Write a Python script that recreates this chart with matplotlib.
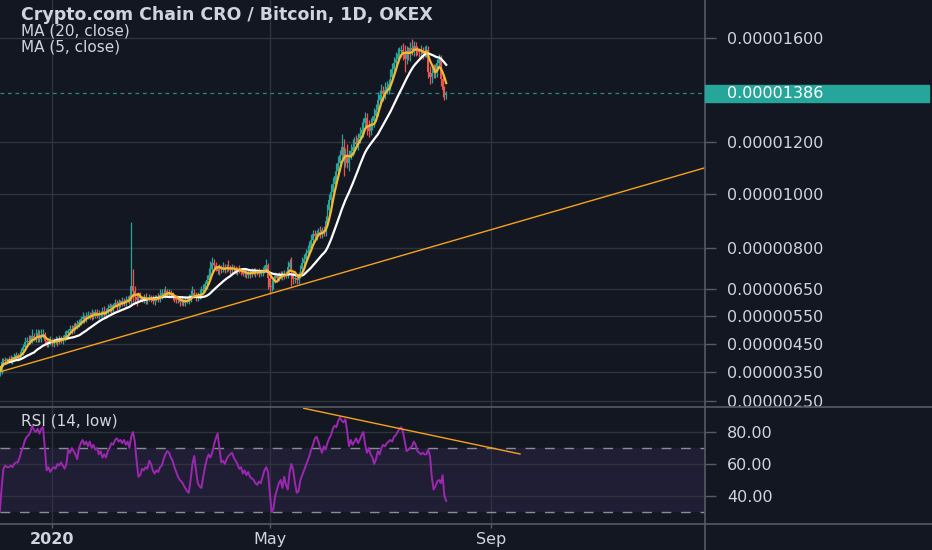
import numpy as np
import pandas as pd
import matplotlib
matplotlib.use("Agg")
import matplotlib.pyplot as plt
import matplotlib.dates as mdates
from matplotlib.lines import Line2D
from matplotlib.patches import Rectangle

# ---------------- data (prices in units of 1e-8 BTC) ----------------
start_date = "2019-12-03"
first_open = 345
close = [
    355, 385, 392, 388, 395, 398, 393, 400, 405, 410,
    402, 412, 425, 440, 455, 462, 458, 465, 478, 470,
    475, 490, 468, 480, 485, 460, 450, 455, 462, 452,
    460, 465, 458, 468, 462, 470, 480, 488, 495, 505,
    500, 515, 512, 520, 530, 538, 545, 535, 550, 555,
    548, 560, 552, 565, 550, 558, 560, 570, 555, 568,
    578, 585, 575, 590, 598, 585, 600, 595, 605, 598,
    610, 612, 605, 660, 640, 620, 610, 625, 615, 610,
    620, 605, 612, 618, 610, 605, 615, 620, 612, 625,
    635, 630, 640, 628, 635, 625, 618, 615, 608, 612,
    600, 605, 598, 610, 605, 615, 625, 635, 628, 615,
    622, 630, 640, 650, 665, 680, 700, 720, 745, 735,
    728, 715, 725, 720, 728, 722, 730, 724, 718, 726,
    720, 715, 722, 716, 710, 705, 712, 700, 708, 702,
    712, 715, 708, 712, 705, 710, 718, 722, 735, 690,
    655, 660, 680, 695, 688, 700, 695, 705, 698, 702,
    730, 745, 700, 685, 690, 680, 700, 720, 745, 760,
    780, 790, 800, 830, 850, 845, 855, 860, 850, 865,
    858, 900, 940, 980, 1010, 1040, 1070, 1090, 1120, 1150,
    1180, 1130, 1150, 1120, 1150, 1165, 1180, 1200, 1190, 1215,
    1230, 1245, 1270, 1290, 1255, 1240, 1265, 1280, 1300, 1320,
    1360, 1380, 1395, 1385, 1400, 1410, 1420, 1450, 1480, 1505,
    1520, 1540, 1550, 1555, 1545, 1520, 1550, 1540, 1560, 1555,
    1570, 1550, 1548, 1545, 1552, 1540, 1545, 1555, 1470, 1450,
    1465, 1480, 1470, 1505, 1520, 1440, 1400, 1380, 1386,
]
wick_hi = [
    10, 15, 8, 12, 6, 10, 14, 8, 12, 10,
    8, 14, 12, 10, 18, 12, 20, 15, 25, 10,
    30, 15, 10, 22, 18, 8, 12, 10, 15, 8,
    10, 12, 8, 14, 10, 12, 15, 10, 8, 12,
    14, 10, 12, 16, 10, 12, 20, 10, 14, 12,
    10, 15, 8, 12, 10, 14, 8, 12, 16, 10,
    14, 12, 10, 8, 15, 10, 12, 8, 14, 10,
    12, 10, 15, 235, 60, 20, 15, 10, 12, 8,
    10, 14, 8, 12, 10, 15, 10, 8, 12, 25,
    15, 12, 20, 10, 14, 8, 12, 10, 8, 12,
    10, 14, 8, 12, 10, 15, 18, 25, 12, 10,
    14, 18, 20, 15, 12, 20, 25, 30, 20, 15,
    12, 10, 15, 12, 20, 14, 10, 25, 12, 15,
    10, 12, 8, 14, 10, 12, 8, 15, 10, 12,
    14, 10, 12, 8, 15, 10, 12, 14, 25, 10,
    15, 20, 12, 14, 10, 12, 15, 10, 12, 14,
    20, 15, 20, 12, 10, 14, 12, 15, 20, 18,
    15, 20, 25, 20, 15, 18, 12, 15, 20, 14,
    18, 20, 25, 20, 30, 25, 20, 30, 25, 20,
    50, 30, 25, 40, 20, 25, 30, 20, 25, 20,
    25, 30, 20, 25, 20, 30, 25, 20, 30, 25,
    30, 20, 25, 20, 30, 25, 20, 30, 25, 20,
    25, 20, 15, 20, 25, 30, 20, 15, 25, 35,
    20, 15, 20, 15, 20, 15, 25, 20, 15, 20,
    25, 20, 20, 15, 20, 15, 20, 15, 10,
]
wick_lo = [
    8, 10, 12, 10, 8, 12, 10, 14, 8, 10,
    12, 8, 10, 14, 10, 12, 8, 10, 12, 10,
    14, 18, 12, 10, 8, 14, 10, 12, 10, 8,
    12, 10, 14, 8, 10, 12, 10, 8, 12, 10,
    14, 10, 12, 8, 10, 12, 14, 10, 8, 12,
    10, 14, 12, 10, 8, 12, 10, 14, 10, 12,
    10, 12, 14, 10, 8, 12, 10, 14, 10, 12,
    10, 8, 12, 10, 40, 20, 25, 10, 12, 10,
    14, 10, 12, 8, 10, 12, 14, 10, 12, 10,
    12, 10, 14, 10, 12, 8, 10, 14, 12, 10,
    14, 10, 12, 10, 8, 12, 14, 10, 12, 10,
    12, 10, 14, 10, 12, 15, 12, 14, 12, 15,
    12, 10, 14, 12, 10, 14, 12, 10, 14, 12,
    10, 12, 14, 10, 12, 10, 14, 12, 10, 12,
    10, 12, 14, 10, 12, 10, 14, 12, 10, 40,
    25, 15, 12, 10, 14, 12, 10, 14, 12, 10,
    14, 12, 40, 20, 15, 12, 14, 12, 15, 12,
    14, 12, 15, 12, 14, 10, 15, 12, 14, 12,
    15, 12, 14, 15, 12, 15, 20, 15, 12, 15,
    20, 60, 25, 20, 30, 15, 20, 25, 15, 20,
    20, 15, 25, 20, 30, 20, 15, 20, 25, 20,
    20, 25, 20, 30, 20, 15, 25, 20, 15, 20,
    20, 15, 20, 25, 30, 50, 20, 25, 30, 20,
    25, 20, 15, 20, 25, 20, 15, 20, 25, 30,
    25, 20, 25, 20, 20, 25, 30, 20, 15,
]
rsi = [
    30, 45, 57, 59, 58, 58, 59, 58, 60, 61,
    61, 64, 68, 71, 75, 77, 78, 80, 84, 81,
    80, 82, 79, 82, 83, 70, 56, 58, 55, 57,
    58, 57, 60, 59, 61, 59, 57, 60, 69, 67,
    70, 68, 66, 63, 70, 73, 75, 72, 74, 71,
    74, 70, 72, 69, 70, 66, 68, 64, 66, 64,
    68, 70, 73, 72, 75, 76, 74, 75, 73, 75,
    72, 74, 70, 77, 80, 74, 62, 52, 53, 57,
    56, 58, 57, 62, 60, 56, 54, 56, 55, 58,
    59, 63, 66, 68, 67, 64, 62, 58, 55, 52,
    50, 49, 47, 45, 43, 42, 50, 60, 65, 56,
    48, 46, 45, 52, 58, 63, 66, 64, 67, 72,
    76, 79, 70, 61, 62, 60, 63, 65, 66, 67,
    64, 62, 60, 57, 58, 54, 56, 53, 55, 52,
    51, 50, 48, 47, 49, 48, 52, 56, 58, 55,
    42, 30, 32, 40, 44, 48, 50, 45, 52, 47,
    44, 55, 60, 56, 48, 42, 43, 50, 53, 56,
    59, 62, 65, 69, 72, 76, 77, 74, 70, 67,
    71, 69, 73, 76, 78, 82, 84, 83, 87, 89,
    87, 86, 88, 80, 71, 75, 72, 74, 76, 73,
    75, 78, 80, 72, 67, 70, 66, 64, 60, 63,
    68, 66, 70, 72, 71, 73, 74, 75, 74, 77,
    78, 80, 82, 83, 80, 74, 68, 69, 70, 71,
    74, 72, 68, 67, 66, 67, 66, 66, 69, 65,
    52, 44, 46, 49, 50, 48, 53, 40, 37,
]
price_ticks = [250, 350, 450, 550, 650, 800, 1000, 1200, 1600]
rsi_ticks = [40, 60, 80]
time_ticks = ["2020-01-01", "2020-05-01", "2020-09-01"]
time_labels = ["2020", "May", "Sep"]
trend_price_dates = ["2019-12-03 02:00", "2020-12-28 19:00"]
trend_price_vals = [351, 1101]
trend_rsi_dates = ["2020-05-19 20:00", "2020-09-17 00:00"]
trend_rsi_vals = [94.8, 66.25]
title = "Crypto.com Chain CRO / Bitcoin, 1D, OKEX"
ma_labels = ["MA (20, close)", "MA (5, close)"]
rsi_label = "RSI (14, low)"

# ---------------- style ----------------
BG = "#131722"
GRID = "#2f333e"
SEP = "#555a66"
TXT = "#d1d4dc"
UP = "#26a69a"
DOWN = "#ef5350"
W, H = 932, 550

plt.rcParams["font.family"] = ["DejaVu Sans"]

fig = plt.figure(figsize=(W / 100, H / 100), dpi=100, facecolor=BG)
ax = fig.add_axes([0, 1 - 407 / H, 705 / W, 407 / H])
rax = fig.add_axes([0, 1 - 524 / H, 705 / W, 117 / H], sharex=ax)
for a in (ax, rax):
    a.set_facecolor(BG)
    for s in a.spines.values():
        s.set_visible(False)

P = 0.93
def fwd(v):
    v = np.asarray(v, dtype=float)
    return np.sign(v) * np.abs(v) ** P
def inv(v):
    v = np.asarray(v, dtype=float)
    return np.sign(v) * np.abs(v) ** (1 / P)
ax.set_yscale("function", functions=(fwd, inv))

dates = pd.date_range(start_date, periods=len(close), freq="D")
x = mdates.date2num(dates)
c = np.array(close, dtype=float)
o = np.r_[first_open, c[:-1]]
hi = np.maximum(o, c) + np.array(wick_hi)
lo = np.minimum(o, c) - np.array(wick_lo)
up = c >= o
cols = np.where(up, UP, DOWN)

ax.vlines(x, lo, hi, colors=cols, lw=0.9, zorder=2)
body = np.maximum(np.abs(c - o), 3)
ax.bar(x, body, bottom=np.minimum(o, c), width=0.85, color=cols, linewidth=0, zorder=2)

s = pd.Series(c)
ma20 = s.rolling(20, min_periods=1).mean()
ma5 = s.rolling(5, min_periods=1).mean()
ax.plot(x, ma20, color="#ffffff", lw=1.6, zorder=3)
ax.plot(x, ma5, color="#f5b82e", lw=1.6, zorder=4)

# price trend line (straight on screen)
tx = mdates.date2num(pd.to_datetime(trend_price_dates))
t = np.linspace(0, 1, 60)
f0, f1 = fwd(trend_price_vals[0]), fwd(trend_price_vals[1])
ax.plot(tx[0] + t * (tx[1] - tx[0]), inv(f0 + t * (f1 - f0)), color="#f7a21b", lw=1.0, zorder=3)

# last price dashed line
ax.axhline(c[-1], color=UP, lw=0.9, ls=(0, (3, 3)), alpha=0.8, zorder=1)

xlim = (mdates.date2num(pd.Timestamp(start_date)) + 0.1,
        mdates.date2num(pd.Timestamp("2020-12-28 19:00")))
ax.set_xlim(*xlim)
ax.set_ylim(229.6, 1749)

tick_x = mdates.date2num(pd.to_datetime(time_ticks))
ax.set_xticks(tick_x)
ax.tick_params(axis="x", length=0, labelbottom=False)
ax.yaxis.tick_right()
ax.set_yticks(price_ticks)
ax.set_yticklabels([f"{v * 1e-8:.8f}" for v in price_ticks])
ax.minorticks_off()
ax.tick_params(axis="y", length=7.9, width=1, color=SEP, pad=7.9,
               labelsize=11.5, labelcolor=TXT)
ax.grid(True, color=GRID, lw=1)
ax.set_axisbelow(True)

# ---------------- RSI pane ----------------
rax.axhspan(30, 70, color="#7e57c2", alpha=0.12, lw=0, zorder=0)
rax.axhline(70, color="#8a8d96", lw=1, ls=(0, (7, 7)), zorder=1)
rax.axhline(30, color="#8a8d96", lw=1, ls=(0, (7, 7)), zorder=1)
rax.plot(x, rsi, color="#9c27b0", lw=1.4, zorder=3)
rtx = mdates.date2num(pd.to_datetime(trend_rsi_dates))
rax.plot(rtx, trend_rsi_vals, color="#f7a21b", lw=1.0, zorder=4)
rax.set_ylim(22.5, 95.6)
rax.yaxis.tick_right()
rax.set_yticks(rsi_ticks)
rax.set_yticklabels([f"{v:.2f}" for v in rsi_ticks])
rax.tick_params(axis="y", length=7.9, width=1, color=SEP, pad=7.9,
                labelsize=11.5, labelcolor=TXT)
rax.set_xticks(tick_x)
rax.set_xticklabels(time_labels)
rax.tick_params(axis="x", length=3, width=1, color=SEP, pad=2.5,
                labelsize=11.5, labelcolor=TXT)
rax.get_xticklabels()[0].set_fontweight("bold")
rax.grid(True, color=GRID, lw=1)
rax.set_axisbelow(True)
rax.set_xlim(*xlim)

# ---------------- separators ----------------
fig.add_artist(Line2D([705 / W, 705 / W], [0, 1], transform=fig.transFigure, color=SEP, lw=1.2))
fig.add_artist(Line2D([0, 1], [1 - 407 / H] * 2, transform=fig.transFigure, color=SEP, lw=1.2))
fig.add_artist(Line2D([0, 1], [1 - 524 / H] * 2, transform=fig.transFigure, color=SEP, lw=1.2))

# ---------------- last price label ----------------
yf = fig.transFigure.inverted().transform(ax.transData.transform((x[-1], c[-1])))[1]
fig.add_artist(Rectangle((705 / W, yf - 8.5 / H), 224 / W, 17 / H,
                         transform=fig.transFigure, color=UP, zorder=5))
fig.text(727 / W, yf, f"{c[-1] * 1e-8:.8f}", color="white", fontsize=11.5,
         va="center", ha="left", zorder=6)

# ---------------- legend texts ----------------
fig.text(21 / W, 1 - 15 / H, title, color=TXT, fontsize=12.5, fontweight="bold",
         va="center", ha="left")
fig.text(21 / W, 1 - 31 / H, ma_labels[0], color=TXT, fontsize=11, va="center", ha="left")
fig.text(21 / W, 1 - 46.5 / H, ma_labels[1], color=TXT, fontsize=11, va="center", ha="left")
fig.text(21 / W, 1 - 421.5 / H, rsi_label, color=TXT, fontsize=11, va="center", ha="left")

fig.savefig("out.png", dpi=100, facecolor=BG)
